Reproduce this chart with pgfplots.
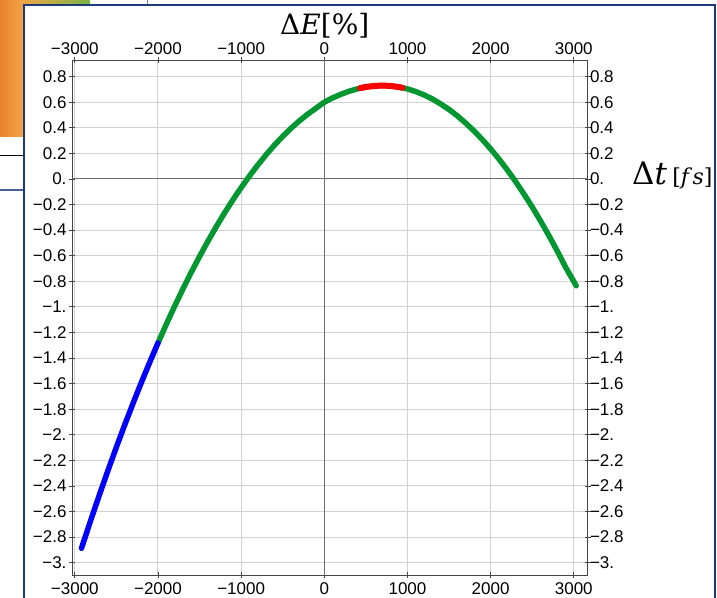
\documentclass[border=0pt]{standalone}
\usepackage{pgfplots}
\pgfplotsset{compat=1.18}
\usepackage{fontspec}
\setmainfont{Liberation Sans}
\newfontfamily\titleserif{DejaVu Serif}

\definecolor{slideblue}{RGB}{31,56,120}
\definecolor{curvegreen}{RGB}{0,150,50}
\definecolor{gridgray}{RGB}{210,210,210}
\definecolor{zerogray}{RGB}{110,110,110}
\definecolor{frameblack}{RGB}{70,70,70}
\definecolor{orangeA}{RGB}{232,130,45}
\definecolor{orangeB}{RGB}{240,165,70}
\definecolor{greenA}{RGB}{120,180,70}

\begin{document}
\begin{tikzpicture}
\useasboundingbox (0pt,0pt) rectangle (717pt,597pt);

% slide decorations around the figure
\shade[left color=orangeA, right color=orangeB] (0pt,460pt) rectangle (23pt,597pt);
\shade[left color=orangeB, right color=greenA] (23pt,592pt) rectangle (90pt,597pt);
\draw[black, line width=1pt] (0pt,441pt) -- (23pt,441pt);
\draw[slideblue!80, line width=1.5pt] (0pt,407pt) -- (23pt,407pt);
\draw[gray, line width=1pt] (147pt,592pt) -- (147pt,597pt);
\filldraw[fill=white, draw=slideblue, line width=2pt] (24pt,-10pt) rectangle (715pt,592pt);

\pgfplotsset{
  frameaxis/.style={
    at={(72pt,22pt)}, anchor=south west,
    scale only axis, width=515.5pt, height=515pt,
    xmin=-3034, xmax=3165, ymin=-3.096, ymax=0.930,
    xtick={-3000,-2000,-1000,0,1000,2000,3000},
    xticklabels={−3000,−2000,−1000,0,1000,2000,3000},
    ytick={-3,-2.8,-2.6,-2.4,-2.2,-2,-1.8,-1.6,-1.4,-1.2,-1,-0.8,-0.6,-0.4,-0.2,0,0.2,0.4,0.6,0.8},
    yticklabels={−3.,−2.8,−2.6,−2.4,−2.2,−2.,−1.8,−1.6,−1.4,−1.2,−1.,−0.8,−0.6,−0.4,−0.2,0.,0.2,0.4,0.6,0.8},
    tick label style={font=\fontsize{17}{17}\selectfont, text=black},
    axis line style={frameblack, line width=0.9pt},
    minor tick num=0,
  },
}

\begin{axis}[frameaxis,
    grid=major,
    major grid style={gridgray, line width=1pt},
    tick align=center, major tick length=6pt,
    tick style={frameblack, line width=0.9pt},
    xtick pos=both, ytick pos=both,
    xticklabel pos=lower, yticklabel pos=left,
    xticklabel style={yshift=-1pt},
    yticklabel style={xshift=1pt},
  ]
  % coordinate axes through the origin
  \draw[zerogray, line width=1pt] (axis cs:-3034,0) -- (axis cs:3165,0);
  \draw[zerogray, line width=1pt] (axis cs:0,-3.096) -- (axis cs:0,0.930);

  % main branch
  \addplot[curvegreen, line width=5.5pt, line cap=round, line join=round] coordinates {
    (-2000,-1.282) (-1900,-1.136) (-1800,-0.995) (-1700,-0.860) (-1600,-0.730)
    (-1500,-0.606) (-1400,-0.487) (-1300,-0.374) (-1200,-0.266) (-1100,-0.164)
    (-1000,-0.068) (-900,0.023) (-800,0.109) (-700,0.189) (-600,0.264)
    (-500,0.333) (-400,0.396) (-300,0.454) (-200,0.506) (-100,0.553)
    (0,0.600) (100,0.634) (200,0.662) (300,0.686) (400,0.705) (500,0.719)
    (600,0.727) (700,0.730) (800,0.727) (900,0.718) (1000,0.704) (1100,0.683)
    (1200,0.657) (1300,0.625) (1400,0.586) (1500,0.543) (1600,0.493)
    (1700,0.437) (1800,0.376) (1900,0.308) (2000,0.235) (2100,0.156)
    (2200,0.071) (2300,-0.020) (2400,-0.117) (2500,-0.219) (2600,-0.328)
    (2700,-0.442) (2800,-0.562) (2900,-0.688) (3029,-0.835)
  };

  % lower branch
  \addplot[blue, line width=5.5pt, line cap=round, line join=round] coordinates {
    (-2920,-2.887) (-2800,-2.651) (-2700,-2.461) (-2600,-2.276) (-2500,-2.096)
    (-2400,-1.922) (-2300,-1.754) (-2200,-1.591) (-2100,-1.434) (-2000,-1.282)
  };

  % top section
  \addplot[red, line width=6pt, line cap=round, line join=round] coordinates {
    (430,0.710) (500,0.719) (600,0.727) (700,0.730) (800,0.727) (900,0.718) (940,0.713)
  };
\end{axis}

% tick labels on the upper and right sides
\begin{axis}[frameaxis,
    axis line style={draw=none},
    major tick length=0pt,
    xticklabel pos=upper, yticklabel pos=right,
    xticklabel style={yshift=2pt},
    yticklabel style={xshift=-1pt},
  ]
\end{axis}

% axis titles
\node[anchor=base west, inner sep=0pt] at (280pt,562pt)
  {\titleserif\fontsize{28}{28}\selectfont Δ\textit{E}[\%]};
\node[anchor=base west, inner sep=0pt] at (632pt,412pt)
  {\titleserif\fontsize{31}{31}\selectfont Δ\textit{t}\,{\fontsize{22}{22}\selectfont[\textit{f\,s}]}};
\end{tikzpicture}
\end{document}
